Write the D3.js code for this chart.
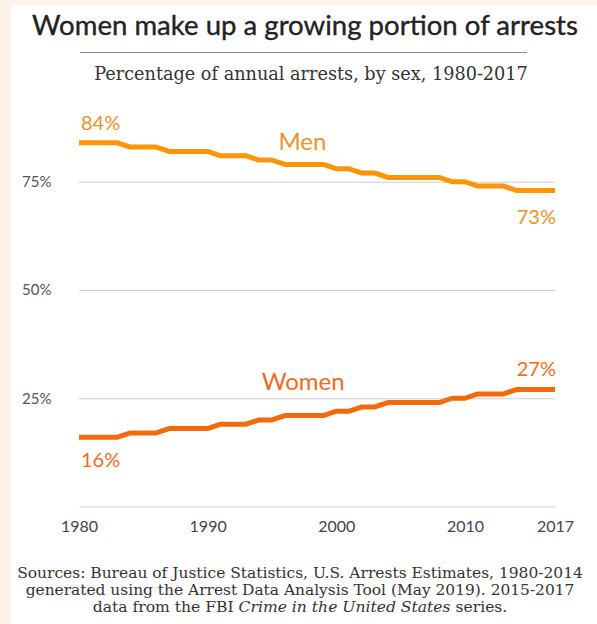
<!DOCTYPE html>
<html>
<head>
<meta charset="utf-8">
<script src="https://cdn.jsdelivr.net/npm/d3@7"></script>
<style>
  html, body { margin: 0; padding: 0; background: #fdf2e7; }
  svg { display: block; }
</style>
</head>
<body>
<svg id="chart" width="597" height="624"></svg>
<script>
// ---------- data ----------
const years = d3.range(1980, 2018);
const menPct = [84,84,84,84,83,83,83,82,82,82,82,81,81,81,80,80,79,79,79,79,78,78,77,77,76,76,76,76,76,75,75,74,74,74,73,73,73,73];
const womenPct = [16,16,16,16,17,17,17,18,18,18,18,19,19,19,20,20,21,21,21,21,22,22,23,23,24,24,24,24,24,25,25,26,26,26,27,27,27,27];
const yTicks = [25, 50, 75];
const xTicks = [1980, 1990, 2000, 2010, 2017];
const titleText = "Women make up a growing portion of arrests";
const subtitleText = "Percentage of annual arrests, by sex, 1980-2017";
const sourceLines = [
  [["Sources: Bureau of Justice Statistics, U.S. Arrests Estimates, 1980-2014", false]],
  [["generated using the Arrest Data Analysis Tool (May 2019). 2015-2017", false]],
  [["data from the FBI ", false], ["Crime in the United States", true], [" series.", false]]
];

// ---------- layout ----------
const W = 597, H = 624;
const plot = { left: 79, right: 555, top: 73.5, bottom: 506.5 };
const menColor = "#ff9406", womenColor = "#f26a0c";
const menLabelColor = "#ea922c", womenLabelColor = "#ef6b1e";
const sans = "Lato, 'Noto Sans', sans-serif";
const serif = "'DejaVu Serif', 'Liberation Serif', serif";

const svg = d3.select("#chart");

// white panel
svg.append("rect").attr("x", 11).attr("y", 5).attr("width", W - 11).attr("height", H - 5).attr("fill", "#fff");

const x = d3.scaleLinear().domain([1980, 2017]).range([plot.left, plot.right]);
const y = d3.scaleLinear().domain([0, 100]).range([plot.bottom, plot.top]);

function fit(sel, target) {
  const w = sel.node().getComputedTextLength();
  const fs = parseFloat(sel.attr("font-size"));
  sel.attr("font-size", (fs * target / w).toFixed(2));
}

// title
const title = svg.append("text").attr("x", 305).attr("y", 35)
  .attr("text-anchor", "middle").attr("font-family", sans).attr("font-size", 24)
  .attr("fill", "#222").attr("stroke", "#222").attr("stroke-width", 0.35).text(titleText);
fit(title, 546);

svg.append("line").attr("x1", 80).attr("x2", 527).attr("y1", 52.5).attr("y2", 52.5)
  .attr("stroke", "#8a8a8a").attr("stroke-width", 1);

const sub = svg.append("text").attr("x", 311).attr("y", 80)
  .attr("text-anchor", "middle").attr("font-family", serif).attr("font-size", 17)
  .attr("fill", "#333").text(subtitleText);
fit(sub, 434);

// grid
const g = svg.append("g");
const yAxis = d3.axisLeft(y).tickValues(yTicks).tickSize(-(plot.right - plot.left))
  .tickFormat(d => d + "%").tickPadding(23);
const yg = g.append("g").attr("transform", `translate(${plot.left},0)`).call(yAxis);
yg.select(".domain").remove();
yg.selectAll(".tick line").attr("stroke", "#cfcfcf").attr("stroke-width", 1.2);
yg.selectAll(".tick text").attr("text-anchor", "start").attr("x", 22 - plot.left)
  .attr("font-family", sans).attr("font-size", 15).attr("fill", "#555");

const xAxis = d3.axisBottom(x).tickValues(xTicks).tickSize(0).tickPadding(14).tickFormat(d3.format("d"));
const xg = g.append("g").attr("transform", `translate(0,${plot.bottom})`).call(xAxis);
xg.select(".domain").attr("stroke", "#cfcfcf").attr("stroke-width", 1.2);
xg.selectAll(".tick text").attr("font-family", sans).attr("font-size", 16).attr("fill", "#444")
  .attr("dy", "0.71em");

// lines
const line = d3.line().x((d, i) => x(years[i])).y(d => y(d));
svg.append("path").datum(menPct).attr("d", line).attr("fill", "none")
  .attr("stroke", menColor).attr("stroke-width", 5).attr("stroke-linejoin", "round");
svg.append("path").datum(womenPct).attr("d", line).attr("fill", "none")
  .attr("stroke", womenColor).attr("stroke-width", 5).attr("stroke-linejoin", "round");

// annotations
function label(txt, px, py, anchor, size, color) {
  return svg.append("text").attr("x", px).attr("y", py).attr("text-anchor", anchor)
    .attr("font-family", sans).attr("font-size", size).attr("fill", color).text(txt);
}
const first = 0, last = years.length - 1;
label(menPct[first] + "%", x(years[first]) + 2, y(menPct[first]) - 13, "start", 20, menLabelColor);
label("Men", x(1995.5), y(menPct[16]) - 14, "start", 24, menLabelColor);
label(menPct[last] + "%", x(years[last]) + 1, y(menPct[last]) + 34, "end", 20, menLabelColor);
label("Women", x(1994.2), y(womenPct[16]) - 26, "start", 24, womenLabelColor);
label(womenPct[last] + "%", x(years[last]) + 1, y(womenPct[last]) - 14, "end", 20, womenLabelColor);
label(womenPct[first] + "%", x(years[first]) + 2, y(womenPct[first]) + 30, "start", 20, womenLabelColor);

// sources
const srcY = [578, 595, 612];
const srcW = [566, 549, 415];
sourceLines.forEach((parts, i) => {
  const t = svg.append("text").attr("x", 300).attr("y", srcY[i]).attr("text-anchor", "middle")
    .attr("font-family", serif).attr("font-size", 14).attr("fill", "#333");
  parts.forEach(([s, it]) => t.append("tspan").attr("font-style", it ? "italic" : "normal").text(s));
  fit(t, srcW[i]);
});
</script>
</body>
</html>
